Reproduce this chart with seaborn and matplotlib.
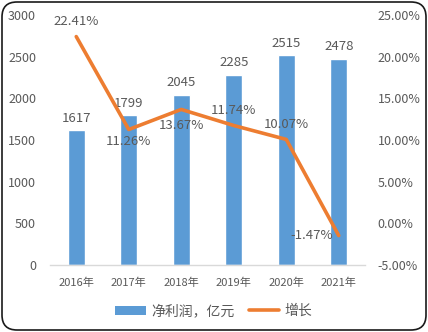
import matplotlib
matplotlib.use("Agg")
import matplotlib.pyplot as plt
import seaborn as sns
import pandas as pd
from matplotlib.patches import FancyBboxPatch
from matplotlib.lines import Line2D
from matplotlib.patches import Patch

years = ["2016年", "2017年", "2018年", "2019年", "2020年", "2021年"]
profit = [1617, 1799, 2045, 2285, 2515, 2478]
growth = [22.41, 11.26, 13.67, 11.74, 10.07, -1.47]
left_ticks = [0, 500, 1000, 1500, 2000, 2500, 3000]
right_ticks = [-5, 0, 5, 10, 15, 20, 25]
bar_label = "净利润，亿元"
line_label = "增长"

sns.set_theme(style="white")
plt.rcParams['font.family'] = ['Noto Sans CJK SC', 'DejaVu Sans']

BLUE = "#5B9BD5"
ORANGE = "#ED7D31"
TXT = "#595959"

fig = plt.figure(figsize=(4.28, 3.32), dpi=100)
ax = fig.add_axes([50/428, 1-265/332, 315/428, 250/332])

df = pd.DataFrame({"year": years, "profit": profit, "growth": growth})
sns.barplot(data=df, x="year", y="profit", color=BLUE, width=0.32, ax=ax, saturation=1)
ax.set_ylim(0, 3000)
ax.set_xlim(-0.5, 5.5)
ax.set_yticks(left_ticks)
ax.set_yticklabels([str(t) for t in left_ticks])
ax.set_xlabel("")
ax.set_ylabel("")
for s in ["top", "right", "left"]:
    ax.spines[s].set_visible(False)
ax.spines["bottom"].set_color("#D9D9D9")
ax.spines["bottom"].set_linewidth(1)
ax.tick_params(axis="y", length=0, pad=10, labelsize=9, labelcolor=TXT)
ax.tick_params(axis="x", length=0, pad=9, labelsize=8, labelcolor=TXT)

for i, v in enumerate(profit):
    ax.annotate(str(v), (i, v), xytext=(0, 4), textcoords="offset points",
                ha="center", va="bottom", fontsize=9.5, color=TXT)

ax2 = ax.twinx()
sns.lineplot(x=years, y=growth, ax=ax2, color=ORANGE, linewidth=2.6, sort=False)
ax2.set_ylim(-5, 25)
ax2.set_yticks(right_ticks)
ax2.set_yticklabels([f"{t:.2f}%" for t in right_ticks])
for s in ["top", "right", "left", "bottom"]:
    ax2.spines[s].set_visible(False)
ax2.tick_params(axis="y", length=0, pad=9, labelsize=9, labelcolor=TXT)
ax2.set_ylabel("")

offsets = [(0, 6, "center", "bottom"), (0, -4, "center", "top"), (0, -7, "center", "top"),
           (0, 6, "center", "bottom"), (0, 6, "center", "bottom"), (-4, 0, "right", "center")]
for i, v in enumerate(growth):
    dx, dy, ha, va = offsets[i]
    ax2.annotate(f"{v:.2f}%", (i, v), xytext=(dx, dy), textcoords="offset points",
                 ha=ha, va=va, fontsize=9.5, color=TXT)

handles = [Patch(facecolor=BLUE, edgecolor="none"),
           Line2D([0], [0], color=ORANGE, linewidth=2.6)]
fig.legend(handles, [bar_label, line_label], loc="center", bbox_to_anchor=(0.5, 1-311/332),
           ncol=2, frameon=False, fontsize=10, labelcolor=TXT, handlelength=2.2,
           handleheight=0.6, columnspacing=1.0, handletextpad=0.4)

border = FancyBboxPatch((2/428, 2/332), 424/428, 328/332,
                        boxstyle="round,pad=0,rounding_size=0.035",
                        mutation_aspect=428/332,
                        transform=fig.transFigure, fill=False, edgecolor="#1a1a1a",
                        linewidth=1.2, zorder=10)
fig.patches.append(border)

fig.savefig("out.png", dpi=100)
